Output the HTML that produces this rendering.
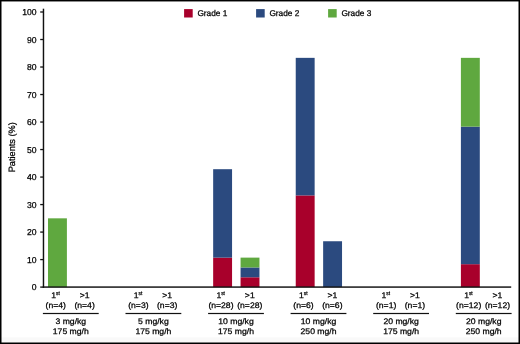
<!DOCTYPE html>
<html><head><meta charset="utf-8"><title>Chart</title>
<style>html,body{margin:0;padding:0;background:#fff}svg{display:block}text{stroke:#000;stroke-width:.25px}</style></head>
<body>
<svg width="520" height="344" viewBox="0 0 520 344" font-family="Liberation Sans, Arial, Helvetica, sans-serif" font-size="8.6" fill="#000" text-rendering="geometricPrecision">
<rect x="0" y="0" width="520" height="344" fill="#fff"/>
<rect x="1" y="337.4" width="518" height="5.6" fill="#f9f9f9" stroke="none"/>
<rect x="48.00" y="218.33" width="18.9" height="68.78" fill="#5fa83f"/>
<rect x="213.16" y="257.62" width="18.9" height="29.48" fill="#a8002b"/>
<rect x="213.16" y="169.20" width="18.9" height="88.43" fill="#2b4a7f"/>
<rect x="240.56" y="277.28" width="18.9" height="9.82" fill="#a8002b"/>
<rect x="240.56" y="267.45" width="18.9" height="9.82" fill="#2b4a7f"/>
<rect x="240.56" y="257.62" width="18.9" height="9.83" fill="#5fa83f"/>
<rect x="295.74" y="195.40" width="18.9" height="91.70" fill="#a8002b"/>
<rect x="295.74" y="57.85" width="18.9" height="137.55" fill="#2b4a7f"/>
<rect x="323.14" y="241.25" width="18.9" height="45.85" fill="#2b4a7f"/>
<rect x="460.90" y="264.18" width="18.9" height="22.93" fill="#a8002b"/>
<rect x="460.90" y="126.62" width="18.9" height="137.55" fill="#2b4a7f"/>
<rect x="460.90" y="57.85" width="18.9" height="68.78" fill="#5fa83f"/>
<rect x="42.75" y="8.7" width="1.45" height="279.10" fill="#111"/>
<rect x="42.75" y="286.35" width="468.45" height="1.45" fill="#111"/>
<rect x="40.2" y="286.45" width="3" height="1.3" fill="#111"/>
<text transform="translate(36.60,290.10) scale(1.0,1)" text-anchor="end" font-size="8.6">0</text>
<rect x="40.2" y="258.94" width="3" height="1.3" fill="#111"/>
<text transform="translate(36.60,262.59) scale(1.0,1)" text-anchor="end" font-size="8.6">10</text>
<rect x="40.2" y="231.43" width="3" height="1.3" fill="#111"/>
<text transform="translate(36.60,235.08) scale(1.0,1)" text-anchor="end" font-size="8.6">20</text>
<rect x="40.2" y="203.92" width="3" height="1.3" fill="#111"/>
<text transform="translate(36.60,207.57) scale(1.0,1)" text-anchor="end" font-size="8.6">30</text>
<rect x="40.2" y="176.41" width="3" height="1.3" fill="#111"/>
<text transform="translate(36.60,180.06) scale(1.0,1)" text-anchor="end" font-size="8.6">40</text>
<rect x="40.2" y="148.90" width="3" height="1.3" fill="#111"/>
<text transform="translate(36.60,152.55) scale(1.0,1)" text-anchor="end" font-size="8.6">50</text>
<rect x="40.2" y="121.39" width="3" height="1.3" fill="#111"/>
<text transform="translate(36.60,125.04) scale(1.0,1)" text-anchor="end" font-size="8.6">60</text>
<rect x="40.2" y="93.88" width="3" height="1.3" fill="#111"/>
<text transform="translate(36.60,97.53) scale(1.0,1)" text-anchor="end" font-size="8.6">70</text>
<rect x="40.2" y="66.37" width="3" height="1.3" fill="#111"/>
<text transform="translate(36.60,70.02) scale(1.0,1)" text-anchor="end" font-size="8.6">80</text>
<rect x="40.2" y="38.86" width="3" height="1.3" fill="#111"/>
<text transform="translate(36.60,42.51) scale(1.0,1)" text-anchor="end" font-size="8.6">90</text>
<rect x="40.2" y="11.35" width="3" height="1.3" fill="#111"/>
<text transform="translate(36.60,15.00) scale(1.0,1)" text-anchor="end" font-size="8.6">100</text>
<text transform="translate(15.2,147.3) rotate(-90)" text-anchor="middle" font-size="9.2">Patients (%)</text>
<rect x="184.1" y="9.1" width="8.6" height="8.4" fill="#a8002b"/>
<text transform="translate(197.40,15.80) scale(1.0,1)" font-size="8.3">Grade 1</text>
<rect x="256.1" y="9.1" width="8.6" height="8.4" fill="#2b4a7f"/>
<text transform="translate(269.40,15.80) scale(1.0,1)" font-size="8.3">Grade 2</text>
<rect x="328.1" y="9.1" width="8.6" height="8.4" fill="#5fa83f"/>
<text transform="translate(341.40,15.80) scale(1.0,1)" font-size="8.3">Grade 3</text>
<text transform="translate(55.50,297.50) scale(1.065,1)" text-anchor="middle" font-size="8.1">1<tspan font-size="5.6" dy="-2.8" textLength="3.5" lengthAdjust="spacingAndGlyphs">st</tspan></text>
<text transform="translate(84.60,297.50) scale(1.065,1)" text-anchor="middle" font-size="8.1">&gt;1</text>
<text transform="translate(55.80,307.80) scale(1.065,1)" text-anchor="middle" font-size="8.1">(n=4)</text>
<text transform="translate(84.60,307.80) scale(1.065,1)" text-anchor="middle" font-size="8.1">(n=4)</text>
<rect x="42.9" y="312.9" width="55.8" height="1.2" fill="#111"/>
<text transform="translate(70.80,323.50) scale(1.065,1)" text-anchor="middle" font-size="8.1">3 mg/kg</text>
<text transform="translate(70.80,334.30) scale(1.065,1)" text-anchor="middle" font-size="8.1">175 mg/h</text>
<text transform="translate(138.08,297.50) scale(1.065,1)" text-anchor="middle" font-size="8.1">1<tspan font-size="5.6" dy="-2.8" textLength="3.5" lengthAdjust="spacingAndGlyphs">st</tspan></text>
<text transform="translate(167.18,297.50) scale(1.065,1)" text-anchor="middle" font-size="8.1">&gt;1</text>
<text transform="translate(138.38,307.80) scale(1.065,1)" text-anchor="middle" font-size="8.1">(n=3)</text>
<text transform="translate(167.18,307.80) scale(1.065,1)" text-anchor="middle" font-size="8.1">(n=3)</text>
<rect x="125.5" y="312.9" width="55.8" height="1.2" fill="#111"/>
<text transform="translate(153.38,323.50) scale(1.065,1)" text-anchor="middle" font-size="8.1">5 mg/kg</text>
<text transform="translate(153.38,334.30) scale(1.065,1)" text-anchor="middle" font-size="8.1">175 mg/h</text>
<text transform="translate(220.66,297.50) scale(1.065,1)" text-anchor="middle" font-size="8.1">1<tspan font-size="5.6" dy="-2.8" textLength="3.5" lengthAdjust="spacingAndGlyphs">st</tspan></text>
<text transform="translate(249.76,297.50) scale(1.065,1)" text-anchor="middle" font-size="8.1">&gt;1</text>
<text transform="translate(220.96,307.80) scale(1.065,1)" text-anchor="middle" font-size="8.1">(n=28)</text>
<text transform="translate(249.76,307.80) scale(1.065,1)" text-anchor="middle" font-size="8.1">(n=28)</text>
<rect x="208.1" y="312.9" width="55.8" height="1.2" fill="#111"/>
<text transform="translate(235.96,323.50) scale(1.065,1)" text-anchor="middle" font-size="8.1">10 mg/kg</text>
<text transform="translate(235.96,334.30) scale(1.065,1)" text-anchor="middle" font-size="8.1">175 mg/h</text>
<text transform="translate(303.24,297.50) scale(1.065,1)" text-anchor="middle" font-size="8.1">1<tspan font-size="5.6" dy="-2.8" textLength="3.5" lengthAdjust="spacingAndGlyphs">st</tspan></text>
<text transform="translate(332.34,297.50) scale(1.065,1)" text-anchor="middle" font-size="8.1">&gt;1</text>
<text transform="translate(303.54,307.80) scale(1.065,1)" text-anchor="middle" font-size="8.1">(n=6)</text>
<text transform="translate(332.34,307.80) scale(1.065,1)" text-anchor="middle" font-size="8.1">(n=6)</text>
<rect x="290.6" y="312.9" width="55.8" height="1.2" fill="#111"/>
<text transform="translate(318.54,323.50) scale(1.065,1)" text-anchor="middle" font-size="8.1">10 mg/kg</text>
<text transform="translate(318.54,334.30) scale(1.065,1)" text-anchor="middle" font-size="8.1">250 mg/h</text>
<text transform="translate(385.82,297.50) scale(1.065,1)" text-anchor="middle" font-size="8.1">1<tspan font-size="5.6" dy="-2.8" textLength="3.5" lengthAdjust="spacingAndGlyphs">st</tspan></text>
<text transform="translate(414.92,297.50) scale(1.065,1)" text-anchor="middle" font-size="8.1">&gt;1</text>
<text transform="translate(386.12,307.80) scale(1.065,1)" text-anchor="middle" font-size="8.1">(n=1)</text>
<text transform="translate(414.92,307.80) scale(1.065,1)" text-anchor="middle" font-size="8.1">(n=1)</text>
<rect x="373.2" y="312.9" width="55.8" height="1.2" fill="#111"/>
<text transform="translate(401.12,323.50) scale(1.065,1)" text-anchor="middle" font-size="8.1">20 mg/kg</text>
<text transform="translate(401.12,334.30) scale(1.065,1)" text-anchor="middle" font-size="8.1">175 mg/h</text>
<text transform="translate(468.40,297.50) scale(1.065,1)" text-anchor="middle" font-size="8.1">1<tspan font-size="5.6" dy="-2.8" textLength="3.5" lengthAdjust="spacingAndGlyphs">st</tspan></text>
<text transform="translate(497.50,297.50) scale(1.065,1)" text-anchor="middle" font-size="8.1">&gt;1</text>
<text transform="translate(468.70,307.80) scale(1.065,1)" text-anchor="middle" font-size="8.1">(n=12)</text>
<text transform="translate(497.50,307.80) scale(1.065,1)" text-anchor="middle" font-size="8.1">(n=12)</text>
<rect x="455.8" y="312.9" width="55.8" height="1.2" fill="#111"/>
<text transform="translate(483.70,323.50) scale(1.065,1)" text-anchor="middle" font-size="8.1">20 mg/kg</text>
<text transform="translate(483.70,334.30) scale(1.065,1)" text-anchor="middle" font-size="8.1">250 mg/h</text>
<rect x="0.75" y="0.7" width="518.5" height="342.55" fill="none" stroke="#000" stroke-width="1.5"/>
</svg>
</body></html>
